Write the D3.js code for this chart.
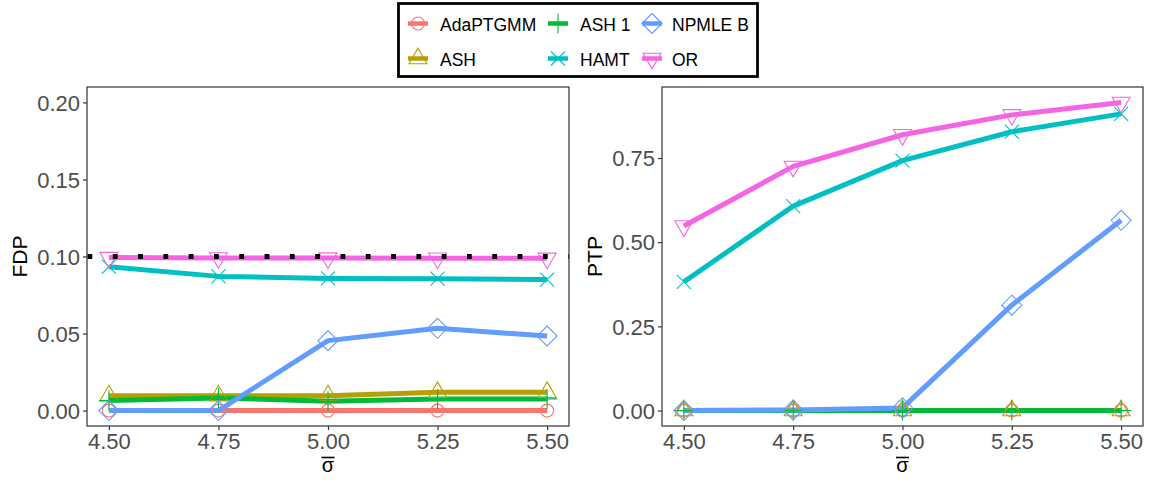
<!DOCTYPE html>
<html>
<head>
<meta charset="utf-8">
<script src="https://cdn.jsdelivr.net/npm/d3@7"></script>
<style>
  html, body { margin: 0; padding: 0; background: #fff; }
  svg { display: block; font-family: "Liberation Sans", Arial, sans-serif; }
</style>
</head>
<body>
<svg id="chart" width="1153" height="481"></svg>
<script>
// ---------- data ----------
const sigmaValues = [4.5, 4.75, 5.0, 5.25, 5.5];
const methods = ["AdaPTGMM", "ASH", "ASH 1", "HAMT", "NPMLE B", "OR"];
const methodColors = ["#F8766D", "#B79F00", "#00BA38", "#00BFC4", "#619CFF", "#F564E3"];
const methodShapes = ["circle", "triangle", "plus", "cross", "diamond", "triangleDown"];

// FDP (left panel)
const fdpAdaPTGMM = [0, 0, 0, 0, 0];
const fdpASH      = [0.0097, 0.0097, 0.0097, 0.0119, 0.0119];
const fdpASH1     = [0.0065, 0.0082, 0.0060, 0.0076, 0.0076];
const fdpHAMT     = [0.0934, 0.0871, 0.0858, 0.0856, 0.0850];
const fdpNPMLEB   = [0, 0, 0.0454, 0.0534, 0.0484];
const fdpOR       = [0.0993, 0.0991, 0.0990, 0.0989, 0.0988];
const fdpTarget = 0.1;

// PTP (right panel)
const ptpAdaPTGMM = [0, 0, 0, 0, 0];
const ptpASH      = [0, 0, 0, 0, 0];
const ptpASH1     = [0, 0, 0, 0, 0];
const ptpHAMT     = [0.382, 0.607, 0.742, 0.828, 0.881];
const ptpNPMLEB   = [0, 0.002, 0.008, 0.313, 0.565];
const ptpOR       = [0.548, 0.725, 0.819, 0.878, 0.915];

const xTicks = [4.5, 4.75, 5.0, 5.25, 5.5];
const fdpTicks = [0, 0.05, 0.10, 0.15, 0.20];
const ptpTicks = [0, 0.25, 0.50, 0.75];

const fdpSeries = [fdpAdaPTGMM, fdpASH, fdpASH1, fdpHAMT, fdpNPMLEB, fdpOR];
const ptpSeries = [ptpAdaPTGMM, ptpASH, ptpASH1, ptpHAMT, ptpNPMLEB, ptpOR];

// ---------- helpers ----------
const svg = d3.select("#chart");

function shapePath(shape) {
  switch (shape) {
    case "circle": {
      const r = 6.5;
      return `M${-r},0A${r},${r} 0 1,0 ${r},0A${r},${r} 0 1,0 ${-r},0Z`;
    }
    case "triangle": {
      const s = 18, h = s * Math.sqrt(3) / 2;
      return `M0,${-2*h/3}L${s/2},${h/3}L${-s/2},${h/3}Z`;
    }
    case "triangleDown": {
      const s = 18, h = s * Math.sqrt(3) / 2;
      return `M0,${2*h/3}L${s/2},${-h/3}L${-s/2},${-h/3}Z`;
    }
    case "diamond": {
      const d = 10;
      return `M0,${-d}L${d},0L0,${d}L${-d},0Z`;
    }
    case "plus": {
      const a = 10;
      return `M${-a},0L${a},0M0,${-a}L0,${a}`;
    }
    case "cross": {
      const a = 7;
      return `M${-a},${-a}L${a},${a}M${-a},${a}L${a},${-a}`;
    }
  }
}

function drawPanel(box, yDomain, yTicks, series, yTitle, titleX, hline) {
  const x = d3.scaleLinear().domain([4.45, 5.55]).range([box.x0, box.x1]);
  const y = d3.scaleLinear().domain(yDomain).range([box.y1, box.y0]);

  const g = svg.append("g");
  const clipId = "clip" + box.x0;
  svg.append("clipPath").attr("id", clipId).append("rect")
    .attr("x", box.x0).attr("y", box.y0)
    .attr("width", box.x1 - box.x0).attr("height", box.y1 - box.y0);

  const plot = g.append("g").attr("clip-path", `url(#${clipId})`);
  const line = d3.line().x((d, i) => x(sigmaValues[i])).y(d => y(d));

  series.forEach((vals, k) => {
    plot.append("path").datum(vals)
      .attr("d", line)
      .attr("fill", "none")
      .attr("stroke", methodColors[k])
      .attr("stroke-width", 5)
      .attr("stroke-linejoin", "round");
  });
  series.forEach((vals, k) => {
    plot.selectAll(null).data(vals).enter().append("path")
      .attr("transform", (d, i) => `translate(${x(sigmaValues[i])},${y(d)})`)
      .attr("d", shapePath(methodShapes[k]))
      .attr("fill", "none")
      .attr("stroke", methodColors[k])
      .attr("stroke-width", 1.1);
  });
  if (hline !== null) {
    g.append("line")
      .attr("x1", box.x0 + 0.5).attr("x2", box.x1)
      .attr("y1", y(hline)).attr("y2", y(hline))
      .attr("stroke", "#000").attr("stroke-width", 4.8)
      .attr("stroke-dasharray", "4.8,20.5");
  }

  // panel border
  g.append("rect")
    .attr("x", box.x0).attr("y", box.y0)
    .attr("width", box.x1 - box.x0).attr("height", box.y1 - box.y0)
    .attr("fill", "none").attr("stroke", "#333").attr("stroke-width", 1.2);

  // axes
  const xAxis = d3.axisBottom(x).tickValues(xTicks).tickFormat(d3.format(".2f"))
    .tickSize(4).tickPadding(3);
  const xa = g.append("g").attr("transform", `translate(0,${box.y1})`).call(xAxis);
  const yAxis = d3.axisLeft(y).tickValues(yTicks).tickFormat(d3.format(".2f"))
    .tickSize(4).tickPadding(3);
  const ya = g.append("g").attr("transform", `translate(${box.x0},0)`).call(yAxis);
  [xa, ya].forEach(a => {
    a.select(".domain").remove();
    a.selectAll(".tick line").attr("stroke", "#333").attr("stroke-width", 1.2);
    a.selectAll(".tick text").attr("fill", "#4D4D4D").style("font-size", "22px")
      .style("font-family", "'Liberation Sans', Arial, sans-serif");
  });
  xa.selectAll(".tick text").attr("dy", null).attr("y", 23);
  ya.selectAll(".tick text").attr("dy", "0.35em");

  // titles
  const cx = (box.x0 + box.x1) / 2;
  g.append("text")
    .attr("x", cx).attr("y", 472)
    .attr("text-anchor", "middle")
    .style("font-size", "20px")
    .attr("fill", "#000")
    .text("σ");
  g.append("line")
    .attr("x1", cx - 6.5).attr("x2", cx + 6.5)
    .attr("y1", 457.5).attr("y2", 457.5)
    .attr("stroke", "#000").attr("stroke-width", 1.6);
  g.append("text")
    .attr("transform", `translate(${titleX},${(box.y0 + box.y1) / 2}) rotate(-90)`)
    .attr("text-anchor", "middle")
    .style("font-size", "21px").attr("fill", "#000")
    .text(yTitle);
}

// left panel (FDP), limits 0..0.2 with 5% expansion
const fdpLim = [0, 0.2];
const fdpPad = (fdpLim[1] - fdpLim[0]) * 0.05;
drawPanel({x0: 87, x1: 569, y0: 87, y1: 426},
  [fdpLim[0] - fdpPad, fdpLim[1] + fdpPad], fdpTicks, fdpSeries, "FDP", 27, fdpTarget);

// right panel (PTP), data range with 5% expansion
const ptpMax = d3.max(ptpSeries.flat());
const ptpPad = ptpMax * 0.05;
drawPanel({x0: 662, x1: 1143, y0: 87, y1: 426},
  [-ptpPad, ptpMax + ptpPad], ptpTicks, ptpSeries, "PTP", 602, null);

// ---------- legend ----------
const legend = svg.append("g");
legend.append("rect")
  .attr("x", 398.5).attr("y", 3.5).attr("width", 359).attr("height", 73)
  .attr("fill", "#fff").attr("stroke", "#000").attr("stroke-width", 2.8);

const colKeyX = [418, 558, 652];
const colTextX = [440, 580, 672];
const rowY = [23.5, 58.5];
methods.forEach((m, k) => {
  const col = Math.floor(k / 2), row = k % 2;
  const cx = colKeyX[col], cy = rowY[row];
  legend.append("line")
    .attr("x1", cx - 10).attr("x2", cx + 10).attr("y1", cy).attr("y2", cy)
    .attr("stroke", methodColors[k]).attr("stroke-width", 4.5);
  legend.append("path")
    .attr("transform", `translate(${cx},${cy})`)
    .attr("d", shapePath(methodShapes[k]))
    .attr("fill", "none").attr("stroke", methodColors[k]).attr("stroke-width", 1.1);
  legend.append("text")
    .attr("x", colTextX[col]).attr("y", cy + 7.5)
    .style("font-size", "17.5px").attr("fill", "#000")
    .text(m);
});
</script>
</body>
</html>
